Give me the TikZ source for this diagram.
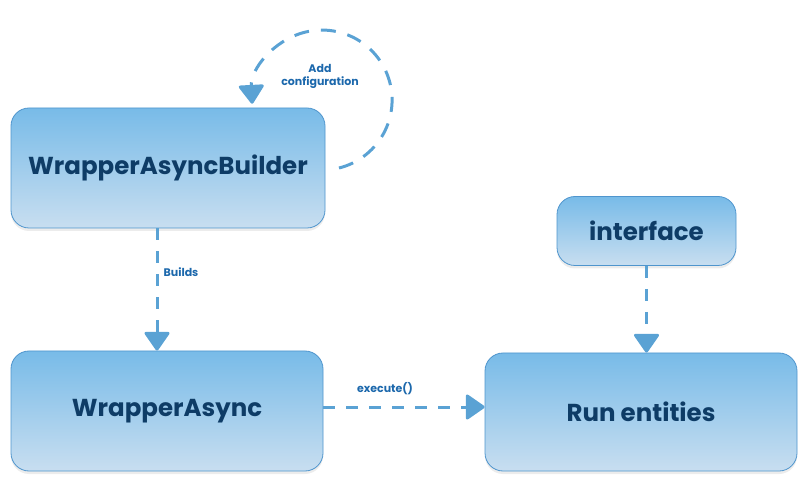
\documentclass[tikz,border=0pt]{standalone}
\usepackage{fontspec}
\setmainfont{Poppins}
\usetikzlibrary{arrows.meta,shadows}

\definecolor{boxtop}{HTML}{78BBE8}
\definecolor{boxbottom}{HTML}{C8DEF0}
\definecolor{boxline}{HTML}{4F95CD}
\definecolor{boxtext}{HTML}{0E3C66}
\definecolor{flowline}{HTML}{5AA2D4}
\definecolor{flowtext}{HTML}{1C68AC}

\tikzset{
  block/.style={draw=boxline, line width=0.8pt, rounded corners=18pt,
    top color=boxtop, bottom color=boxbottom, inner sep=0pt,
    drop shadow={opacity=0.15, shadow xshift=0pt, shadow yshift=-3pt},
    font=\fontsize{24.5}{28}\selectfont\bfseries, text=boxtext},
  flow/.style={draw=flowline, line width=3pt, dash pattern=on 12pt off 11pt,
    -{Triangle[round, length=20pt, width=27pt]}},
  flowlabel/.style={font=\fontsize{11}{13}\selectfont\bfseries, text=flowtext,
    align=center}
}

\begin{document}
\begin{tikzpicture}[x=1pt, y=1pt]
  \useasboundingbox (0,0) rectangle (810,487);

  % Blocks
  \node[block, minimum width=314pt, minimum height=120pt] (builder) at (168,319) {WrapperAsyncBuilder};
  \node[block, minimum width=312pt, minimum height=120pt] (wrapper) at (167,76) {WrapperAsync};
  \node[block, minimum width=312pt, minimum height=118pt] (run) at (641,75) {Run entities};
  \node[block, minimum width=179pt, minimum height=69pt] (iface) at (646.5,256) {interface};

  % Self loop
  \coordinate (loopstart) at (339,319);
  \draw[flow, dash pattern=on 15pt off 12pt] (loopstart) arc[start angle=-76, end angle=183, radius=70];

  % Arrows
  \draw[flow] ([xshift=-11pt]builder.south) -- ([xshift=-10pt]wrapper.north);
  \draw[flow] ([yshift=4pt]wrapper.east) -- ([yshift=5pt]run.west);
  \draw[flow] (iface.south) -- (iface.south |- run.north);

  % Labels
  \node[flowlabel] (addcfg) at (320,411) {Add\\configuration};
  \node[flowlabel] (builds) at (181,215) {Builds};
  \node[flowlabel] (exec) at (385,98) {execute()};
\end{tikzpicture}
\end{document}
